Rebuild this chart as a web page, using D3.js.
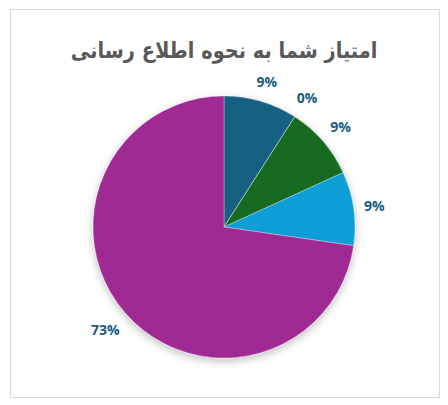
<!DOCTYPE html>
<html>
<head>
<meta charset="utf-8">
<script src="https://cdn.jsdelivr.net/npm/d3@7"></script>
<style>
  body { margin: 0; background: #fff; }
</style>
</head>
<body>
<div id="chart"></div>
<script>
const titleText = 'امتیاز شما به نحوه اطلاع رسانی';
const categories = ['1', '2', '3', '4', '5'];
const values = [1, 0, 1, 1, 8];
const labels = ['9%', '0%', '9%', '9%', '73%'];
const colors = ['#156082', '#E97132', '#196B24', '#0F9ED5', '#A02B93'];

const width = 448, height = 405;
const cx = 224, cy = 227, radius = 131;

const svg = d3.select('#chart')
  .append('svg')
  .attr('width', width)
  .attr('height', height);

// frame
svg.append('rect')
  .attr('x', 10.5).attr('y', 9.5)
  .attr('width', 429).attr('height', 388)
  .attr('fill', '#fff')
  .attr('stroke', '#d9d9d9');

const defs = svg.append('defs');
const shadow = defs.append('filter')
  .attr('id', 'shadow')
  .attr('x', '-20%').attr('y', '-20%')
  .attr('width', '140%').attr('height', '140%');
shadow.append('feDropShadow')
  .attr('dx', 0).attr('dy', 3)
  .attr('stdDeviation', 4)
  .attr('flood-color', '#000')
  .attr('flood-opacity', 0.25);

svg.append('text')
  .attr('transform', `translate(${cx},58) scale(0.88,1)`)
  .attr('text-anchor', 'middle')
  .attr('font-family', '"DejaVu Sans", sans-serif')
  .attr('font-weight', 'bold')
  .attr('font-size', 22)
  .attr('fill', '#595959')
  .text(titleText);

const pie = d3.pie().sort(null).value(d => d)(values);
const arc = d3.arc().innerRadius(0).outerRadius(radius);

const g = svg.append('g')
  .attr('transform', `translate(${cx},${cy})`);

g.append('g')
  .attr('filter', 'url(#shadow)')
  .selectAll('path')
  .data(pie)
  .join('path')
  .attr('d', arc)
  .attr('fill', (d, i) => colors[i])
  .attr('stroke', '#fff')
  .attr('stroke-width', 0.5)
  .attr('stroke-opacity', 0.6);

// data labels, outside end
const lbl = g.selectAll('.lbl')
  .data(pie)
  .join('text')
  .attr('class', 'lbl')
  .attr('text-anchor', 'middle')
  .attr('dominant-baseline', 'central')
  .attr('font-family', '"Open Sans", sans-serif')
  .attr('font-weight', 'bold')
  .attr('font-size', 14)
  .attr('fill', '#1A5C7E')
  .text((d, i) => labels[i]);

lbl.each(function (d) {
  const a = (d.startAngle + d.endAngle) / 2;
  const bb = this.getBBox();
  const r = radius + 9 + Math.abs(Math.sin(a)) * bb.width / 2 + Math.abs(Math.cos(a)) * bb.height / 2;
  d3.select(this)
    .attr('x', Math.sin(a) * r)
    .attr('y', -Math.cos(a) * r);
});
</script>
</body>
</html>
